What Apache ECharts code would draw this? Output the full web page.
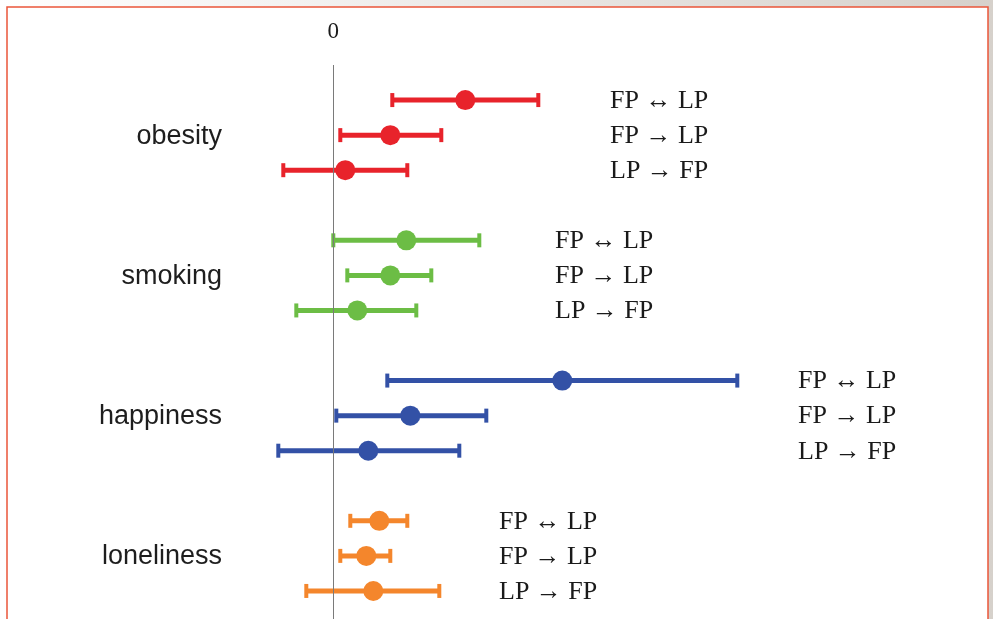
<!DOCTYPE html>
<html>
<head>
<meta charset="utf-8">
<title>Contagion estimates</title>
<script src="https://cdn.jsdelivr.net/npm/echarts@6/dist/echarts.min.js"></script>
<style>
  html, body { margin: 0; padding: 0; background: #ffffff; }
  #chart { width: 993px; height: 619px; }
</style>
</head>
<body>
<div id="chart"></div>
<script>
// Outcomes, one colour each
const outcomes = ['obesity', 'smoking', 'happiness', 'loneliness'];
const colors = ['#e8232b', '#6cbd45', '#3351a6', '#f4862c'];

// Tie types, in the order drawn within each outcome
const tieLabels = ['FP \u2194 LP', 'FP \u2192 LP', 'LP \u2192 FP'];

// Point estimates and interval bounds per outcome (rows follow tieLabels)
const estObesity   = [1.32, 0.57, 0.12];
const lowObesity   = [0.59, 0.07, -0.50];
const highObesity  = [2.05, 1.08, 0.74];

const estSmoking   = [0.73, 0.57, 0.24];
const lowSmoking   = [0.00, 0.14, -0.37];
const highSmoking  = [1.46, 0.98, 0.83];

const estHappiness  = [2.29, 0.77, 0.35];
const lowHappiness  = [0.54, 0.03, -0.55];
const highHappiness = [4.04, 1.53, 1.26];

const estLoneliness  = [0.46, 0.33, 0.40];
const lowLoneliness  = [0.17, 0.07, -0.27];
const highLoneliness = [0.74, 0.57, 1.06];

const estimates = [estObesity, estSmoking, estHappiness, estLoneliness];
const lows = [lowObesity, lowSmoking, lowHappiness, lowLoneliness];
const highs = [highObesity, highSmoking, highHappiness, highLoneliness];

// Layout: left edge (px) of the tie-type labels for each outcome block
const tieLabelLeft = [610, 555, 798, 499];
const outcomeLabelRight = 222;

const chart = echarts.init(document.getElementById('chart'), null, { renderer: 'canvas' });

const rowOf = (g, j) => g * 4 + j;

const series = [];
outcomes.forEach((name, g) => {
  const color = colors[g];
  const barData = estimates[g].map((_, j) => [lows[g][j], highs[g][j], rowOf(g, j)]);
  const dotData = estimates[g].map((v, j) => [v, rowOf(g, j)]);

  // Interval bars with end caps
  series.push({
    type: 'custom',
    name: name + '-ci',
    silent: true,
    data: barData,
    encode: { x: [0, 1], y: 2 },
    renderItem: function (params, api) {
      const a = api.coord([api.value(0), api.value(2)]);
      const b = api.coord([api.value(1), api.value(2)]);
      const cap = 7;
      const st = { stroke: color, lineWidth: 5 };
      const cst = { stroke: color, lineWidth: 4 };
      return {
        type: 'group',
        children: [
          { type: 'line', shape: { x1: a[0], y1: a[1], x2: b[0], y2: b[1] }, style: st },
          { type: 'line', shape: { x1: a[0], y1: a[1] - cap, x2: a[0], y2: a[1] + cap }, style: cst },
          { type: 'line', shape: { x1: b[0], y1: b[1] - cap, x2: b[0], y2: b[1] + cap }, style: cst }
        ]
      };
    },
    z: 2
  });

  // Point estimates
  series.push({
    type: 'scatter',
    name: name,
    silent: true,
    data: dotData,
    symbol: 'circle',
    symbolSize: 20,
    itemStyle: { color: color, opacity: 1 },
    z: 3
  });

  // Tie-type labels to the right of each block
  series.push({
    type: 'custom',
    name: name + '-ties',
    silent: true,
    data: tieLabels.map((t, j) => [0, rowOf(g, j), t]),
    renderItem: function (params, api) {
      const p = api.coord([0, api.value(1)]);
      return {
        type: 'text',
        x: tieLabelLeft[g],
        y: p[1] + 1,
        style: {
          text: tieLabels[params.dataIndex],
          font: '26px "Liberation Serif", "Times New Roman", serif',
          fill: '#1a1a1a',
          textAlign: 'left',
          textVerticalAlign: 'middle'
        }
      };
    },
    z: 4
  });
});

// Outcome names on the left, centred on the middle row of each block
series.push({
  type: 'custom',
  name: 'outcomes',
  silent: true,
  data: outcomes.map((o, g) => [0, rowOf(g, 1)]),
  renderItem: function (params, api) {
    const p = api.coord([0, api.value(1)]);
    return {
      type: 'text',
      x: outcomeLabelRight,
      y: p[1] + 1,
      style: {
        text: outcomes[params.dataIndex],
        font: '27px "Liberation Sans", Arial, Helvetica, sans-serif',
        fill: '#1e1e1e',
        textAlign: 'right',
        textVerticalAlign: 'middle'
      }
    };
  },
  z: 4
});

// Reference line at zero
series.push({
  type: 'scatter',
  name: 'zero',
  data: [],
  silent: true,
  markLine: {
    silent: true,
    symbol: ['none', 'none'],
    label: { show: false },
    lineStyle: { color: '#7a7a7a', width: 1, type: 'solid' },
    data: [{ xAxis: 0 }]
  },
  z: 1
});

const option = {
  animation: false,
  backgroundColor: 'transparent',
  graphic: [
    {
      type: 'rect',
      shape: { x: 0, y: 0, width: 993, height: 619 },
      style: {
        fill: new echarts.graphic.LinearGradient(0, 0, 1, 0, [
          { offset: 0, color: '#ffffff' },
          { offset: 0.3, color: '#f3f2f1' },
          { offset: 1, color: '#d6d1cb' }
        ])
      },
      z: -10,
      silent: true
    },
    {
      type: 'rect',
      shape: { x: 7, y: 7, width: 981, height: 630 },
      style: { fill: '#ffffff', stroke: '#ea553a', lineWidth: 1.5 },
      z: -9,
      silent: true
    }
  ],
  grid: { left: 233.3, width: 700, top: 65, bottom: 0, containLabel: false },
  xAxis: {
    type: 'value',
    position: 'top',
    min: -1,
    max: 6,
    interval: 1,
    axisLine: { show: false },
    axisTick: { show: false },
    splitLine: { show: false },
    axisLabel: {
      show: true,
      margin: 22,
      fontSize: 23,
      fontFamily: '"Liberation Serif", "Times New Roman", serif',
      color: '#1a1a1a',
      formatter: v => (v === 0 ? '0' : '')
    }
  },
  yAxis: {
    type: 'value',
    inverse: true,
    min: -1,
    max: 14.8,
    show: false
  },
  series: series
};

chart.setOption(option);
</script>
</body>
</html>
